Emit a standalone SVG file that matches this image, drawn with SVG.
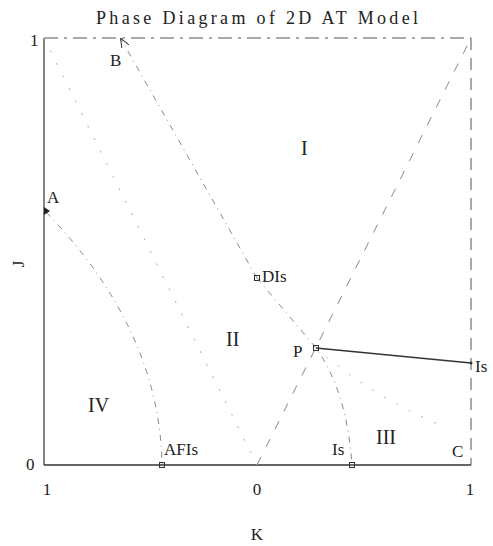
<svg xmlns="http://www.w3.org/2000/svg" width="493" height="546" viewBox="0 0 493 546">
<style>
text{font-family:"Liberation Serif","Times New Roman",serif;fill:#222;}
.lbl{font-size:17px;}
.reg{font-size:20px;}
.frame{fill:none;stroke:#333;stroke-width:1.2;}
.dash{fill:none;stroke:#888;stroke-width:1;stroke-dasharray:9,11;}
.dot{fill:none;stroke:#aaa;stroke-width:1;stroke-dasharray:2,12;}
.dd{fill:none;stroke:#888;stroke-width:1;stroke-dasharray:6,5,1,5;}
.solid{fill:none;stroke:#333;stroke-width:1.3;}
.mk{fill:none;stroke:#333;stroke-width:1;}
</style>
<defs>
<marker id="arr" markerWidth="10" markerHeight="8" refX="9" refY="4" orient="auto" markerUnits="userSpaceOnUse">
<path d="M0,0 L10,4 L0,8" fill="none" stroke="#333" stroke-width="1"/>
</marker>
</defs>
<text x="257" y="24" text-anchor="middle" style="font-size:18px" textLength="322" lengthAdjust="spacing">Phase Diagram of 2D AT Model</text>
<g id="frame">
<line x1="44" y1="38" x2="44" y2="465" class="frame"/>
<line x1="44" y1="465" x2="471" y2="465" class="frame" style="stroke-width:1.6"/>
<line x1="44" y1="38" x2="471" y2="38" class="dash" style="stroke:#555;stroke-dasharray:14,6,3,6"/>
<line x1="471" y1="38" x2="471" y2="465" class="dash" style="stroke:#555;stroke-dasharray:12,8"/>
</g>
<g id="connectors">
<line x1="44" y1="38" x2="257" y2="465" class="dot"/>
<line x1="257" y1="465" x2="471" y2="38" class="dash"/>
<path d="M316,348 Q370,395 440,425" class="dot"/>
<path d="M257,278 L121,39" class="dd" marker-end="url(#arr)"/>
<path d="M257,278 L316,348 C335,375 348,410 352,465" class="dd"/>
<path d="M46,212 Q160,330 162,465" class="dd"/>
<line x1="316" y1="348" x2="471" y2="363" class="solid"/>
</g>
<g id="node-A"><path d="M44,207 L50,211 L44,215 Z" fill="#222"/><text x="47" y="203" class="lbl">A</text></g>
<g id="node-B"><text x="110" y="66" class="lbl">B</text></g>
<g id="node-DIs"><rect x="254.5" y="275.5" width="5" height="5" class="mk"/><text x="262" y="282" class="lbl">DIs</text></g>
<g id="node-P"><rect x="313.5" y="345.5" width="5" height="5" class="mk"/><text x="293" y="357" class="lbl">P</text></g>
<g id="node-Is-right"><circle cx="471" cy="363" r="1.5" fill="#333"/><text x="475" y="372" class="lbl">Is</text></g>
<g id="node-AFIs"><rect x="159.5" y="462.5" width="5" height="5" class="mk"/><text x="164" y="455" class="lbl">AFIs</text></g>
<g id="node-Is-bottom"><rect x="349.5" y="462.5" width="5" height="5" class="mk"/><text x="332" y="455" class="lbl">Is</text></g>
<g id="node-C"><text x="452" y="457" class="lbl">C</text></g>
<g id="region-I"><text x="301" y="155" class="reg">I</text></g>
<g id="region-II"><text x="226" y="346" class="reg">II</text></g>
<g id="region-III"><text x="376" y="444" class="reg">III</text></g>
<g id="region-IV"><text x="88" y="412" class="reg">IV</text></g>
<g id="axes">
<text x="30" y="46" class="lbl">1</text>
<text x="26" y="470" class="lbl">0</text>
<text x="47" y="495" class="lbl" text-anchor="middle">1</text>
<text x="257" y="495" class="lbl" text-anchor="middle">0</text>
<text x="470" y="495" class="lbl" text-anchor="middle">1</text>
<text x="257" y="540" class="lbl" text-anchor="middle">K</text>
<text x="0" y="0" class="lbl" text-anchor="middle" transform="translate(24,264) rotate(-90)">J</text>
</g>
</svg>
